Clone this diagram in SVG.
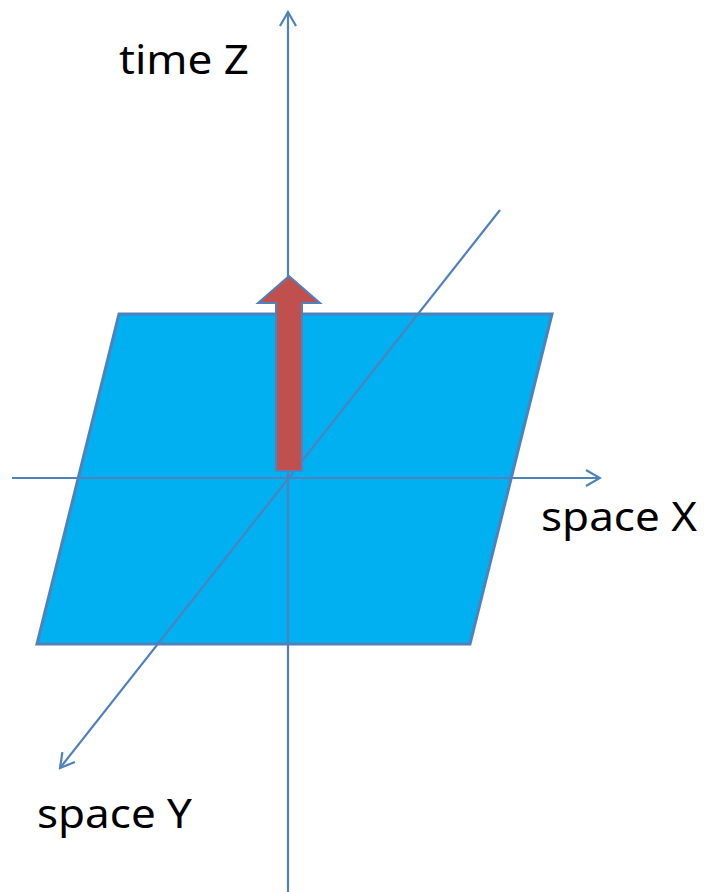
<svg xmlns="http://www.w3.org/2000/svg" width="704" height="892" viewBox="0 0 704 892">
<style>
.ax{stroke:#4F81BD;stroke-width:2.2;fill:none}
.lbl{font-family:"Noto Sans","Open Sans",sans-serif;font-size:40px;fill:#000}
</style>
<defs>
<marker id="open" viewBox="0 0 20 20" refX="18" refY="10" markerWidth="20" markerHeight="20" markerUnits="userSpaceOnUse" orient="auto">
<path d="M4,2 L18,10 L4,18" fill="none" stroke="#4F81BD" stroke-width="2.2"/>
</marker>
</defs>
<rect width="704" height="892" fill="#fff"/>
<g id="plane">
<polygon points="119,314 552,314 470,644 37,644" fill="#00B0F0" stroke="#4F81BD" stroke-width="3"/>
</g>
<g id="connectors">
<line class="ax" x1="288" y1="892" x2="288" y2="12" marker-end="url(#open)"/>
<line class="ax" x1="12" y1="478" x2="600" y2="478" marker-end="url(#open)"/>
<line class="ax" x1="500" y1="210" x2="60" y2="768" marker-end="url(#open)"/>
</g>
<g id="arrow">
<polygon points="276,471 302,471 302,303 320,303 289,276 258,303 276,303" fill="#C0504D" stroke="#4F81BD" stroke-width="2"/>
</g>
<g id="labels">
<text class="lbl" x="119" y="74" textLength="130" lengthAdjust="spacingAndGlyphs">time Z</text>
<text class="lbl" x="541" y="531" textLength="156" lengthAdjust="spacingAndGlyphs">space X</text>
<text class="lbl" x="37" y="828" textLength="155" lengthAdjust="spacingAndGlyphs">space Y</text>
</g>
</svg>
